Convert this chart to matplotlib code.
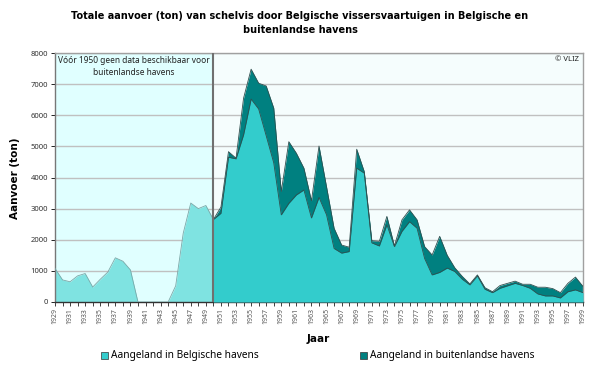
import matplotlib
matplotlib.use("Agg")
import matplotlib.pyplot as plt
import numpy as np
from matplotlib.patches import Rectangle

plt.rcParams['font.family'] = ['Noto Sans', 'DejaVu Sans']

years_pre = list(range(1929, 1951))
belg_pre = [1080, 710, 650, 840, 915, 480, 730, 960, 1420, 1310, 1030,
            0, 0, 0, 0, 0, 520, 2210, 3180, 3000, 3100, 2650]

years = list(range(1950, 2000))
belg = [2650, 2850, 4650, 4600, 5370, 6520, 6200, 5340, 4470, 2800,
        3170, 3440, 3600, 2700, 3360, 2800, 1720, 1570, 1620, 4300,
        4140, 1900, 1800, 2480, 1780, 2270, 2580, 2370, 1400, 870,
        950, 1090, 980, 730, 550, 840, 410, 300, 440, 520,
        600, 530, 440, 260, 195, 195, 130, 330, 390, 300]
total = [2650, 3050, 4830, 4620, 6550, 7480, 7030, 6940, 6230, 3550,
         5150, 4780, 4300, 3250, 5010, 3700, 2370, 1830, 1760, 4910,
         4190, 1970, 1950, 2750, 1800, 2640, 2960, 2640, 1780, 1510,
         2110, 1500, 1100, 820, 580, 870, 460, 330, 530, 600,
         670, 570, 570, 475, 475, 430, 300, 600, 800, 500]

yticks = list(range(0, 8001, 1000))

title = "Totale aanvoer (ton) van schelvis door Belgische vissersvaartuigen in Belgische en\nbuitenlandse havens"
note = "Vóór 1950 geen data beschikbaar voor\nbuitenlandse havens"

c_pre = "#7fe3e1"
c_belg = "#33cccc"
c_for = "#008080"
edge = "#2f4f4f"
bold_font = ['DejaVu Sans']

fig = plt.figure(figsize=(6, 3.68), dpi=100)
ax = fig.add_axes([55/600, 1-302/368, (583-55)/600, (302-53)/368])
ax.set_facecolor("#f5fdfd")
ax.axvspan(1929, 1950, color="#e0ffff", zorder=0, lw=0)

for y in yticks[1:]:
    ax.axhline(y, color="#c0c0c0", lw=1.0, zorder=1)

ax.fill_between(years_pre, belg_pre, 0, color=c_pre, lw=0, zorder=2)
ax.plot(years_pre, belg_pre, color="#7aa8a8", lw=0.6, zorder=3)

ax.fill_between(years, total, 0, color=c_for, lw=0, zorder=2)
ax.fill_between(years, belg, 0, color=c_belg, lw=0, zorder=3)
ax.plot(years, total, color=edge, lw=0.6, zorder=4)
ax.plot(years, belg, color=edge, lw=0.6, zorder=4)

ax.axvline(1950, color="#707070", lw=1.5, zorder=5)

ax.set_xlim(1929, 1999)
ax.set_ylim(0, 8000)
ax.set_yticks(yticks)
ax.set_yticklabels([str(v) for v in yticks], fontsize=5.5)
ax.set_xticks(list(range(1929, 2000, 2)))
ax.set_xticklabels([str(v) for v in range(1929, 2000, 2)], rotation=90, fontsize=5)
ax.set_xticks(list(range(1929, 2000)), minor=True)
ax.tick_params(axis='x', which='both', direction='out', length=3, width=0.6, pad=1.5,
               color="#222222", labelcolor="#555555")
ax.tick_params(axis='y', direction='out', length=3, width=0.6, pad=2, labelcolor="#333333")
for s in ax.spines.values():
    s.set_color("#a0a0a0")
    s.set_linewidth(1.0)
ax.spines['bottom'].set_color("#333333")
ax.spines['left'].set_color("#777777")

ax.text(1939.5, 7900, note, ha="center", va="top", fontsize=6, color="#222222", linespacing=1.4)
ax.text(1998.5, 7900, "© VLIZ", ha="right", va="top", fontsize=5.5, color="#222222")

fig.text(0.5, 1-11/368, title, ha="center", va="top", fontsize=7.0, fontweight="bold",
         linespacing=1.5, family=bold_font)
fig.text(15/600, 1-178/368, "Aanvoer (ton)", rotation=90, ha="center", va="center",
         fontsize=7.5, fontweight="bold", family=bold_font)
fig.text(318/600, 1-339/368, "Jaar", ha="center", va="center", fontsize=7.5,
         fontweight="bold", family=bold_font)

# legend
fig.patches.append(Rectangle((101/600, 1-359/368), 7/600, 7/368, transform=fig.transFigure,
                             facecolor=c_belg, edgecolor="#333333", lw=0.5))
fig.text(111/600, 1-355.5/368, "Aangeland in Belgische havens", ha="left", va="center", fontsize=7.3)
fig.patches.append(Rectangle((360/600, 1-359/368), 7/600, 7/368, transform=fig.transFigure,
                             facecolor=c_for, edgecolor="#333333", lw=0.5))
fig.text(370/600, 1-355.5/368, "Aangeland in buitenlandse havens", ha="left", va="center", fontsize=7.3)

fig.savefig("out.png", dpi=100)
